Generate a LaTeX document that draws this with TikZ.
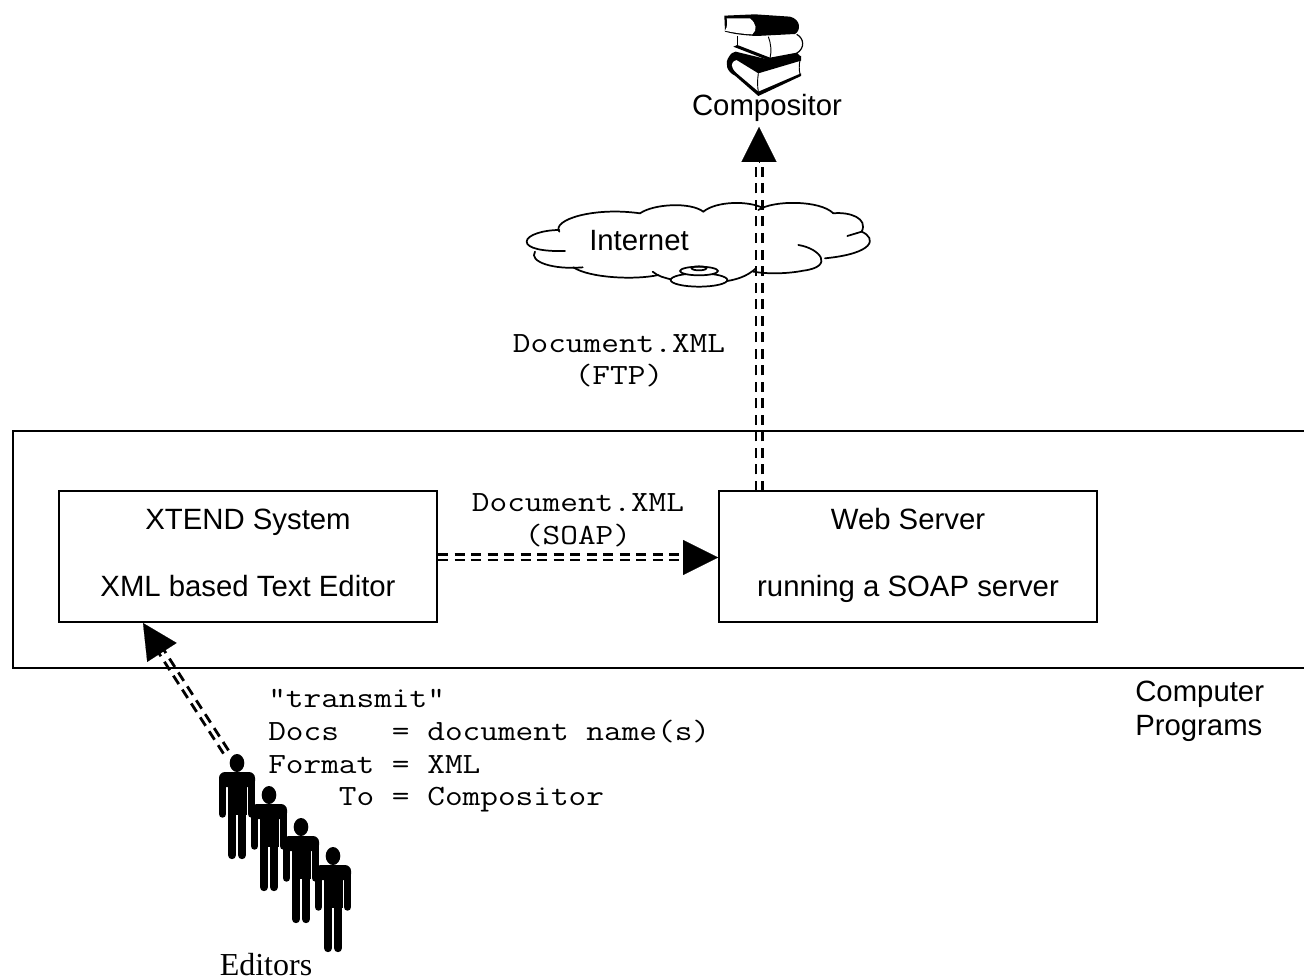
\documentclass[tikz,border=0pt]{standalone}
\usepackage{fontspec}
\usetikzlibrary{arrows.meta,calc}
\setmainfont{Liberation Sans}
\newfontfamily\serifface{Liberation Serif}
\newfontfamily\courface{Latin Modern Mono}[FakeStretch=1.17]
\tikzset{
  sanslabel/.style={font=\fontsize{22}{25}\selectfont,inner sep=0pt,text=black},
  monolabel/.style={font=\fontsize{22}{24}\selectfont\courface,inner sep=0pt,text=black,align=left},
  progbox/.style={draw=black,line width=1.5pt,minimum width=283.5pt,minimum height=98.25pt,inner sep=0pt,align=center,
     font=\fontsize{22}{25.1}\selectfont},
  dashline/.style={line width=2.1pt,draw=black,dash pattern=on 7.5pt off 4.9pt},
  headtip/.style={line width=.1pt,draw=black,-{Triangle[length=26.25pt,width=26.25pt,fill=black]}},
  cloudline/.style={line width=1.3pt,draw=black,line cap=round},
  person/.pic={
    \fill[black] (0,0) ellipse (7.3 and 9);
    \fill[black,rounded corners=4.5pt] (-18,9) rectangle (18,24);
    \fill[black] (-9.5,15) rectangle (9.5,52);
    \draw[black,line width=5.6pt,line cap=round] (-14.5,16) -- (-14.5,51);
    \draw[black,line width=5.6pt,line cap=round] (14.5,16) -- (14.5,51);
    \draw[black,line width=6.3pt,line cap=round] (-5,45) -- (-5,92);
    \draw[black,line width=6.3pt,line cap=round] (5,45) -- (5,92);
  }
}
\newcommand\dblarrow[4]{%
  \coordinate (dblbase) at ($(#2)!26pt!(#1)$);
  \draw[dashline] ($(#1)+(#3,#4)$) -- ($(dblbase)+(#3,#4)$);
  \draw[dashline] ($(#1)-(#3,#4)$) -- ($(dblbase)-(#3,#4)$);
  \draw[headtip] (dblbase) -- (#2);
}
\begin{document}
\begin{tikzpicture}[x=0.75pt,y=-0.75pt]
\useasboundingbox (0,0) rectangle (1304,980);
% outer frame of computer programs (runs off the right edge)
\draw[line width=1.5pt,black] (1310,431) -- (13,431) -- (13,668) -- (1310,668);
% boxes
\node[progbox] (xtend) at (248,556.5) {\strut XTEND System\\[25pt]\strut XML based Text Editor};
\node[progbox] (web) at (908,556.5) {\strut Web Server\\[25pt]\strut running a SOAP server};
% cloud
\begin{scope}[shift={(510,180)},x=0.25pt,y=-0.25pt]
  \draw[cloudline] (165,213) .. controls (100,215) and (50,205) .. (50,185) .. controls (50,165) and (100,150) .. (148,150);
  \draw[cloudline] (148,155) .. controls (125,120) and (250,80) .. (390,100);
  \draw[cloudline] (390,100) .. controls (430,72) and (540,65) .. (580,95);
  \draw[cloudline] (580,95) .. controls (620,62) and (720,62) .. (760,85);
  \draw[cloudline] (745,90) .. controls (790,60) and (930,60) .. (970,100);
  \draw[cloudline] (970,100) .. controls (1020,95) and (1075,115) .. (1055,155);
  \draw[cloudline] (1012,168) -- (1055,155) .. controls (1100,175) and (1095,220) .. (945,235);
  \draw[cloudline] (865,195) .. controls (930,205) and (975,260) .. (880,272) .. controls (830,282) and (770,282) .. (730,275);
  \draw[cloudline] (738,265) .. controls (710,290) and (680,298) .. (652,303);
  \draw[cloudline] (75,215) .. controls (55,245) and (130,270) .. (218,262);
  \draw[cloudline] (190,262) .. controls (240,295) and (380,300) .. (445,285);
  \draw[cloudline] (428,275) .. controls (445,290) and (465,293) .. (482,298);
  \draw[cloudline] (567,300) ellipse (85 and 20);
  \filldraw[cloudline,fill=white] (567,273) ellipse (57 and 13);
  \draw[cloudline] (567,265) ellipse (22 and 6);
\end{scope}
% books
\begin{scope}[shift={(715,10)},x=0.25pt,y=-0.25pt]
  % bottom book
  \fill[black] (42,140) .. controls (48,130) and (55,126) .. (62,125) -- (165,150) -- (258,138) -- (258,152) -- (130,190) -- (65,150) .. controls (45,155) and (45,172) .. (65,190) -- (130,245) -- (258,190) -- (258,198) -- (130,258) -- (60,197) .. controls (35,185) and (28,160) .. (42,140) -- cycle;
  \draw[black,line width=.7pt] (130,190) .. controls (127,210) and (127,228) .. (130,245);
  \draw[black,line width=.7pt] (255,150) .. controls (252,165) and (252,180) .. (255,192);
  % middle book
  \draw[black,line width=.9pt] (67,78) -- (67,108);
  \draw[black,line width=.9pt] (245,73) .. controls (268,85) and (270,115) .. (245,130);
  \draw[black,line width=.7pt] (160,80) .. controls (168,100) and (170,125) .. (165,145);
  \fill[black] (55,110) -- (67,105) -- (165,143) -- (245,128) -- (258,140) -- (165,153) -- cycle;
  % top book
  \fill[black] (28,17) -- (120,13) -- (225,20) .. controls (258,28) and (258,62) .. (240,72) -- (125,78) .. controls (85,76) and (55,72) .. (30,65) -- cycle;
  \fill[white] (35,25) -- (105,25) .. controls (125,42) and (127,60) .. (112,73) .. controls (85,72) and (55,68) .. (30,62) .. controls (38,50) and (38,35) .. (35,25) -- cycle;
\end{scope}
% people
\pic at (237,763) {person};
\pic at (269,795) {person};
\pic at (301,827) {person};
\pic at (333,856) {person};
% labels
\node[sanslabel,anchor=base] (compositor) at (767,116) {Compositor};
\node[sanslabel,anchor=base] (internet) at (639,251) {Internet};
\node[monolabel,anchor=base] (ftp) at (619,353) {Document.XML};
\node[monolabel,anchor=base] (ftp2) at (619,385) {(FTP)};
\node[monolabel,anchor=base] (soap) at (578,512) {Document.XML};
\node[monolabel,anchor=base] (soap2) at (578,545) {(SOAP)};
\node[monolabel,anchor=base west] (t1) at (268,707) {“transmit”};
\node[monolabel,anchor=base west] (t2) at (268,740) {Docs~~~=~document~name(s)};
\node[monolabel,anchor=base west] (t3) at (268,773) {Format~=~XML};
\node[monolabel,anchor=base west] (t4) at (268,805) {~~~~To~=~Compositor};
\node[sanslabel,anchor=base west] (cp1) at (1135,701) {Computer};
\node[sanslabel,anchor=base west] (cp2) at (1135,735) {Programs};
\node[anchor=base,inner sep=0pt,font=\fontsize{24}{26}\selectfont\serifface] (editors) at (266,975) {Editors};
% connectors
\coordinate (webtop) at (759,491);
\coordinate (comptip) at (759,127);
\dblarrow{webtop}{comptip}{3.1}{0}
\coordinate (xtendout) at ($(xtend.east)+(0,1)$);
\coordinate (webin) at ($(web.west)+(0,1)$);
\dblarrow{xtendout}{webin}{0}{2.6}
\coordinate (editorshead) at (226,752);
\coordinate (xtendtip) at (143,623);
\dblarrow{editorshead}{xtendtip}{2.5}{-1.6}
\end{tikzpicture}
\end{document}
